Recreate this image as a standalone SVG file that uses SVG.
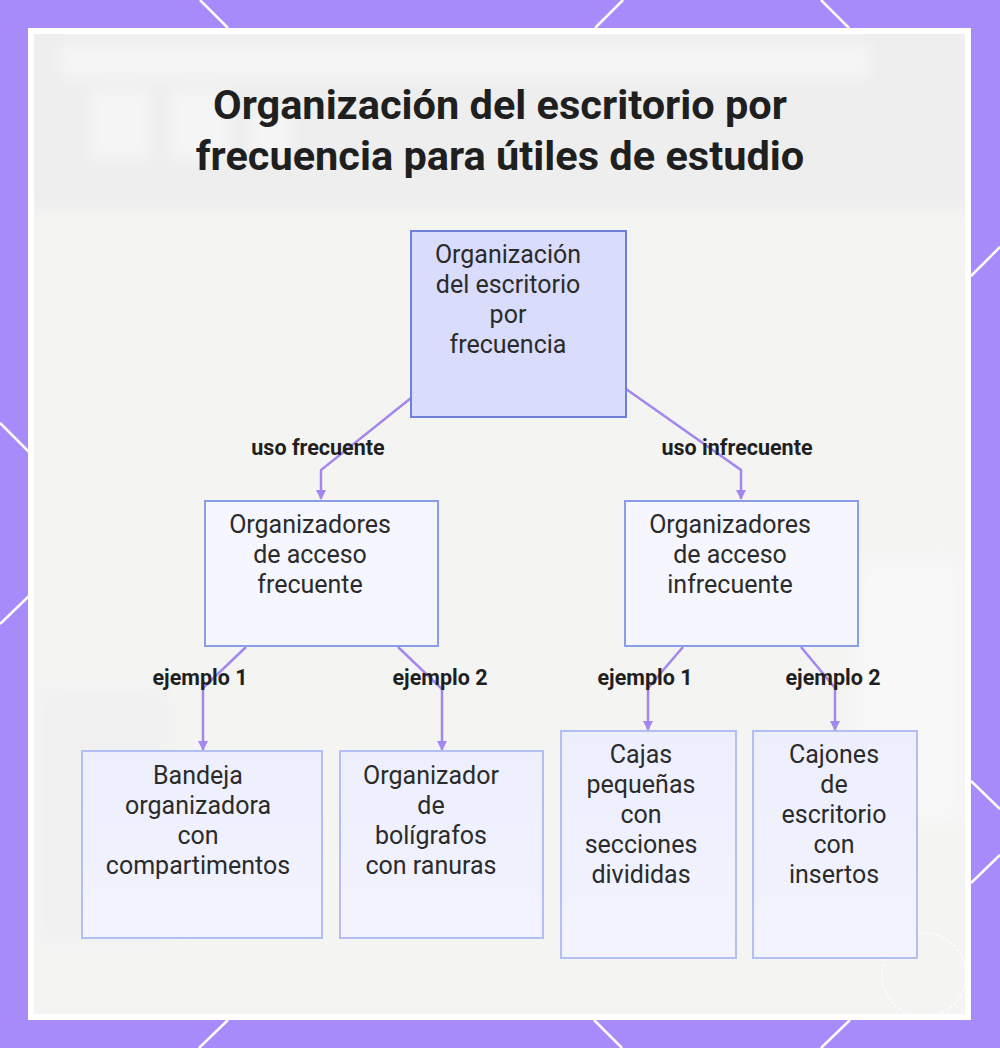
<svg xmlns="http://www.w3.org/2000/svg" width="1000" height="1048" viewBox="0 0 1000 1048">
<defs>
<style>
.title{font-family:Roboto,"Liberation Sans",sans-serif;font-weight:700;font-size:41.5px;fill:#1f1f1f;text-anchor:middle}
.nt{font-family:Roboto,"Liberation Sans",sans-serif;font-size:25px;fill:#2b2b2b;text-anchor:middle}
.el{font-family:Roboto,"Liberation Sans",sans-serif;font-weight:700;font-size:21.5px;fill:#1f1f1f;text-anchor:middle}
.edge{fill:none;stroke:#A487EE;stroke-width:2.5;marker-end:url(#ah)}
.mid{fill:#F5F6FE;stroke:#8C9DE8;stroke-width:2}
.leaf{fill:url(#lg);stroke:#B3BFF2;stroke-width:2}
.frame{stroke:#fff;stroke-width:2.5}
</style>
<linearGradient id="lg" x1="0" y1="0" x2="0" y2="1">
<stop offset="0" stop-color="#EDEFFD"/>
<stop offset="1" stop-color="#F2F3FE"/>
</linearGradient>
<marker id="ah" viewBox="0 0 10 10" refX="9" refY="5" markerWidth="4" markerHeight="4" orient="auto">
<path d="M0,0 L10,5 L0,10 z" fill="#A487EE"/>
</marker>
<filter id="blur" x="-10%" y="-10%" width="120%" height="120%">
<feGaussianBlur stdDeviation="8"/>
</filter>
<clipPath id="inner"><rect x="34" y="34" width="931" height="980"/></clipPath>
</defs>

<rect x="0" y="0" width="1000" height="1048" fill="#A78BFA"/>
<g class="frame">
<line x1="200" y1="0" x2="228" y2="28"/>
<line x1="623" y1="0" x2="595" y2="28"/>
<line x1="821" y1="0" x2="849" y2="28"/>
<line x1="228" y1="1020" x2="199" y2="1048"/>
<line x1="594" y1="1020" x2="622" y2="1048"/>
<line x1="850" y1="1020" x2="821" y2="1048"/>
<line x1="0" y1="423" x2="29" y2="452"/>
<line x1="29" y1="596" x2="0" y2="624"/>
<line x1="1000" y1="247" x2="971" y2="276"/>
<line x1="971" y1="781" x2="1000" y2="809"/>
<line x1="971" y1="883" x2="1000" y2="855"/>
</g>
<rect x="28" y="28" width="943" height="992" fill="#ffffff"/>
<rect x="34" y="34" width="931" height="980" fill="#F4F4F3"/>
<g clip-path="url(#inner)">
<g filter="url(#blur)">
<rect x="20" y="20" width="960" height="190" fill="#EEEEEE"/>
<rect x="60" y="44" width="810" height="34" fill="#F5F5F5"/>
<rect x="90" y="90" width="60" height="70" fill="#F5F5F5"/>
<rect x="170" y="90" width="60" height="70" fill="#F5F5F5"/>
<rect x="250" y="110" width="40" height="50" fill="#F5F5F5"/>
<rect x="40" y="690" width="130" height="250" fill="#F1F1F1"/>
<rect x="860" y="560" width="100" height="260" fill="#F8F8F8"/>
</g>
</g>
<circle cx="924" cy="975" r="42" fill="none" stroke="#ffffff" stroke-width="1.5" stroke-dasharray="3 2" opacity="0.8"/>

<text class="title" x="500" y="119">Organización del escritorio por</text>
<text class="title" x="500" y="170">frecuencia para útiles de estudio</text>

<g id="connectors">
<polyline class="edge" points="411,398 321,470 321,499"/>
<polyline class="edge" points="626,389 741,470 741,499"/>
<polyline class="edge" points="246,647 203,688 203,750"/>
<polyline class="edge" points="398,647 442,689 442,750"/>
<polyline class="edge" points="683,647 648,688 648,730"/>
<polyline class="edge" points="801,647 835,688 835,730"/>
<text class="el" x="318" y="455">uso frecuente</text>
<text class="el" x="737" y="455">uso infrecuente</text>
<text class="el" x="200" y="685">ejemplo 1</text>
<text class="el" x="440" y="685">ejemplo 2</text>
<text class="el" x="645" y="685">ejemplo 1</text>
<text class="el" x="833" y="685">ejemplo 2</text>
</g>

<g id="root">
<rect x="411" y="231" width="215" height="186" fill="#D9DCFB" stroke="#6E80D8" stroke-width="2"/>
<text class="nt" x="508" y="263">Organización</text>
<text class="nt" x="508" y="293">del escritorio</text>
<text class="nt" x="508" y="323">por</text>
<text class="nt" x="508" y="353">frecuencia</text>
</g>

<g id="freq">
<rect class="mid" x="205" y="501" width="233" height="145"/>
<text class="nt" x="310" y="533">Organizadores</text>
<text class="nt" x="310" y="563">de acceso</text>
<text class="nt" x="310" y="593">frecuente</text>
</g>

<g id="infreq">
<rect class="mid" x="625" y="501" width="233" height="145"/>
<text class="nt" x="730" y="533">Organizadores</text>
<text class="nt" x="730" y="563">de acceso</text>
<text class="nt" x="730" y="593">infrecuente</text>
</g>

<g id="bandeja">
<rect class="leaf" x="82" y="751" width="240" height="187"/>
<text class="nt" x="198" y="784">Bandeja</text>
<text class="nt" x="198" y="814">organizadora</text>
<text class="nt" x="198" y="844">con</text>
<text class="nt" x="198" y="874">compartimentos</text>
</g>

<g id="boligrafos">
<rect class="leaf" x="340" y="751" width="203" height="187"/>
<text class="nt" x="431" y="784">Organizador</text>
<text class="nt" x="431" y="814">de</text>
<text class="nt" x="431" y="844">bolígrafos</text>
<text class="nt" x="431" y="874">con ranuras</text>
</g>

<g id="cajas">
<rect class="leaf" x="561" y="731" width="175" height="227"/>
<text class="nt" x="641" y="763">Cajas</text>
<text class="nt" x="641" y="793">pequeñas</text>
<text class="nt" x="641" y="823">con</text>
<text class="nt" x="641" y="853">secciones</text>
<text class="nt" x="641" y="883">divididas</text>
</g>

<g id="cajones">
<rect class="leaf" x="753" y="731" width="164" height="227"/>
<text class="nt" x="834" y="763">Cajones</text>
<text class="nt" x="834" y="793">de</text>
<text class="nt" x="834" y="823">escritorio</text>
<text class="nt" x="834" y="853">con</text>
<text class="nt" x="834" y="883">insertos</text>
</g>
</svg>
